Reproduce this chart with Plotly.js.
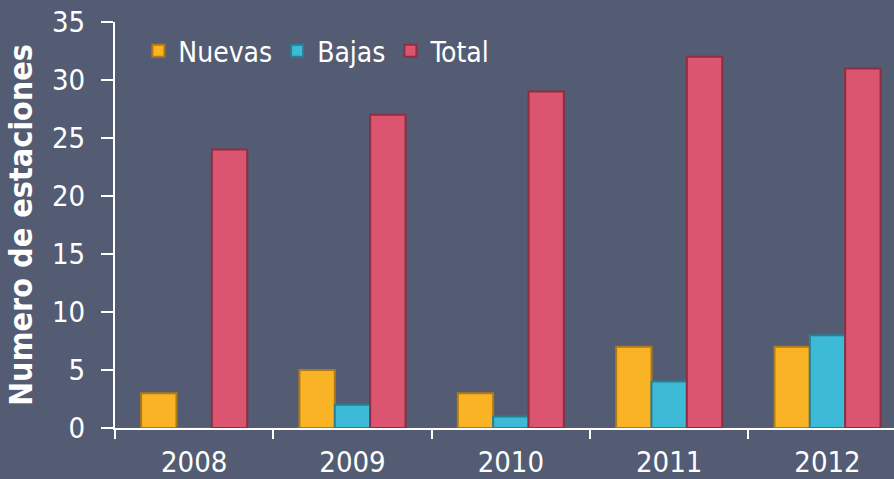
<!DOCTYPE html>
<html><head><meta charset="utf-8">
<script src="https://cdn.plot.ly/plotly-3.0.1.min.js"></script>
<style>html,body{margin:0;padding:0;background:#535C72;}#chart{width:894px;height:479px;}</style>
</head><body><div id="chart"></div>
<script>
const years = ["2008","2009","2010","2011","2012"];
const nuevas = [3, 5, 3, 7, 7];
const bajas = [0, 2, 1, 4, 8];
const total = [24, 27, 29, 32, 31];
const seriesNames = ["Nuevas", "Bajas", "Total"];
const yTicks = [0, 5, 10, 15, 20, 25, 30, 35];

const FONT = "DejaVu Sans Condensed, DejaVu Sans, sans-serif";
const mk = (name, y, fill, edge) => ({
  type: "bar", name: name, x: years, y: y,
  marker: {color: fill, line: {color: edge, width: 2}}
});
const data = [
  mk(seriesNames[0], nuevas, "#FBB326", "#B07A14"),
  mk(seriesNames[1], bajas, "#3DBAD6", "#2A7F94"),
  mk(seriesNames[2], total, "#DC5570", "#8E2E42")
];
const layout = {
  width: 894, height: 479,
  paper_bgcolor: "#535C72", plot_bgcolor: "#535C72",
  margin: {l: 115, r: 0, t: 22, b: 51},
  barmode: "group", bargap: 0.33, bargroupgap: 0,
  font: {family: FONT, color: "#ffffff", size: 28},
  showlegend: true,
  legend: {orientation: "h", x: 0.03, y: 0.99, xanchor: "left", yanchor: "top",
           bgcolor: "rgba(0,0,0,0)", font: {family: FONT, size: 28, color: "#ffffff"},
           itemwidth: 30, traceorder: "normal"},
  xaxis: {type: "category", range: [-0.5, 4.42], showline: true, linecolor: "#ffffff", linewidth: 2,
          ticks: "outside", tickson: "boundaries", ticklen: 9, tickwidth: 2, tickcolor: "#ffffff",
          showgrid: false, zeroline: false, fixedrange: true, ticklabelstandoff: 7,
          tickfont: {family: FONT, size: 29, color: "#ffffff"}},
  yaxis: {range: [0, 35], tickvals: yTicks, showline: true, linecolor: "#ffffff", linewidth: 2,
          ticks: "outside", ticklen: 12, tickwidth: 2, tickcolor: "#ffffff",
          showgrid: false, zeroline: false, fixedrange: true, ticklabelstandoff: 10,
          tickfont: {family: FONT, size: 29, color: "#ffffff"},
          title: {text: "Numero de estaciones", standoff: 10,
                  font: {family: FONT, size: 32, color: "#ffffff", weight: "bold"}}}
};
Plotly.newPlot("chart", data, layout, {displayModeBar: false, staticPlot: true});
</script></body></html>
